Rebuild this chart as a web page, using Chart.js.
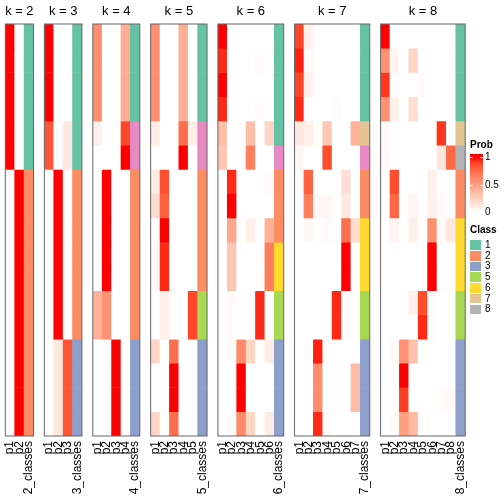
<!DOCTYPE html>
<html>
<head>
<meta charset="utf-8">
<script src="https://cdn.jsdelivr.net/npm/chart.js@4.4.0/dist/chart.umd.min.js"></script>
<style>
  body { margin: 0; width: 504px; height: 504px; background: #fff; position: relative; overflow: hidden;
         font-family: "Liberation Sans", Arial, sans-serif; }
  .panel { position: absolute; top: 0; height: 504px; }
  .lg { position: absolute; font-size: 10px; line-height: 12px; color: #000; white-space: nowrap; }
  .lg.b { font-weight: bold; }
  .sw { position: absolute; }
</style>
</head>
<body>
<div id="panels"></div>
<div id="legend"></div>
<script>
const kValues = [2, 3, 4, 5, 6, 7, 8];

// membership probabilities, one row per sample (top to bottom)
const probK2 = [
  [1, 0], [1, 0], [1, 0], [1, 0], [1, 0], [1, 0],
  [0, 1], [0, 1], [0, 1], [0, 1], [0, 1], [0, 1], [0, 1], [0, 1], [0, 1], [0, 1], [0, 1]
];
const classK2 = [1, 1, 1, 1, 1, 1, 2, 2, 2, 2, 2, 2, 2, 2, 2, 2, 2];

const probK3 = [
  [1, 0, 0], [1, 0, 0], [1, 0, 0], [1, 0, 0],
  [0.82, 0, 0.12], [0.82, 0, 0.12],
  [0, 1, 0], [0, 1, 0], [0, 1, 0], [0, 1, 0], [0, 1, 0], [0, 1, 0], [0, 1, 0],
  [0, 0.12, 0.82], [0, 0.12, 0.82], [0, 0.12, 0.82], [0, 0.12, 0.82]
];
const classK3 = [1, 1, 1, 1, 1, 1, 2, 2, 2, 2, 2, 2, 2, 3, 3, 3, 3];

const probK4 = [
  [0.58, 0, 0, 0.42], [0.58, 0, 0, 0.42], [0.58, 0, 0, 0.42], [0.58, 0, 0, 0.42],
  [0.08, 0, 0, 0.87], [0, 0, 0, 1],
  [0, 1, 0, 0], [0, 1, 0, 0], [0, 1, 0, 0], [0, 1, 0, 0], [0, 1, 0, 0],
  [0.4, 0.57, 0, 0], [0.4, 0.57, 0, 0],
  [0, 0, 1, 0], [0, 0, 1, 0], [0, 0, 1, 0], [0, 0, 1, 0]
];
const classK4 = [1, 1, 1, 1, 4, 4, 2, 2, 2, 2, 2, 2, 2, 3, 3, 3, 3];

const probK5 = [
  [0.58, 0, 0, 0.42, 0], [0.58, 0, 0, 0.42, 0], [0.58, 0, 0, 0.42, 0], [0.58, 0, 0, 0.42, 0],
  [0.1, 0, 0, 0.72, 0.09], [0, 0, 0, 1, 0],
  [0.1, 0.85, 0, 0, 0], [0.18, 0.78, 0, 0, 0], [0, 1, 0, 0, 0],
  [0.02, 0.95, 0, 0, 0], [0.02, 0.95, 0, 0, 0],
  [0, 0.08, 0, 0, 0.87], [0, 0.08, 0, 0, 0.87],
  [0.22, 0, 0.72, 0, 0], [0, 0, 1, 0, 0], [0, 0, 1, 0, 0], [0.22, 0, 0.72, 0, 0]
];
const classK5 = [1, 1, 1, 1, 4, 4, 2, 2, 2, 2, 2, 5, 5, 3, 3, 3, 3];

const probK6 = [
  [1, 0, 0, 0, 0, 0], [0.95, 0, 0, 0, 0.02, 0], [1, 0, 0, 0, 0, 0], [0.95, 0, 0, 0, 0.02, 0],
  [0.34, 0, 0, 0.34, 0, 0.22], [0.3, 0, 0, 0.65, 0, 0],
  [0, 0.95, 0, 0, 0, 0.02], [0, 1, 0, 0, 0, 0], [0, 0.45, 0, 0.08, 0, 0.4],
  [0, 0.3, 0, 0, 0, 0.65], [0, 0.3, 0, 0, 0, 0.65],
  [0, 0.02, 0, 0, 0.95, 0], [0, 0.02, 0, 0, 0.95, 0],
  [0, 0.02, 0.6, 0.22, 0, 0.1], [0, 0, 1, 0, 0, 0], [0, 0, 1, 0, 0, 0], [0, 0.02, 0.6, 0.22, 0, 0.1]
];
const classK6 = [1, 1, 1, 1, 1, 4, 2, 2, 2, 6, 6, 5, 5, 3, 3, 3, 3];

const probK7 = [
  [0.88, 0.08, 0, 0, 0, 0, 0], [0.97, 0.02, 0, 0, 0, 0, 0], [0.88, 0.08, 0, 0, 0, 0, 0], [0.95, 0, 0, 0, 0.02, 0, 0],
  [0.12, 0.08, 0, 0.3, 0, 0, 0.4], [0.05, 0, 0, 0.85, 0, 0, 0],
  [0, 0.78, 0, 0, 0, 0.17, 0], [0, 0.65, 0.04, 0.04, 0, 0.12, 0], [0, 0.04, 0, 0.02, 0, 0.72, 0.18],
  [0, 0, 0, 0, 0, 1, 0], [0, 0, 0, 0, 0, 1, 0],
  [0, 0, 0, 0, 0.95, 0.02, 0], [0, 0, 0, 0, 0.95, 0.02, 0],
  [0, 0, 0.97, 0, 0, 0, 0], [0, 0, 0.58, 0, 0, 0, 0.35], [0, 0, 0.58, 0, 0, 0, 0.35], [0, 0, 0.95, 0.02, 0, 0, 0]
];
const classK7 = [1, 1, 1, 1, 7, 4, 2, 2, 6, 6, 6, 5, 5, 3, 3, 3, 3];

const probK8 = [
  [1, 0, 0, 0, 0, 0, 0, 0], [0.57, 0.05, 0, 0.22, 0, 0, 0, 0], [0.92, 0.02, 0, 0, 0.02, 0, 0, 0], [0.57, 0.08, 0, 0.18, 0, 0, 0, 0],
  [0.03, 0, 0, 0, 0, 0, 0.92, 0], [0.03, 0, 0, 0, 0, 0, 0.14, 0.75],
  [0, 0.85, 0, 0, 0, 0.08, 0, 0], [0, 0.75, 0, 0.05, 0, 0.08, 0.02, 0], [0, 0.06, 0, 0.08, 0, 0.57, 0.03, 0.12],
  [0, 0, 0, 0, 0, 1, 0, 0], [0, 0, 0, 0, 0, 1, 0, 0],
  [0, 0, 0, 0.07, 0.85, 0.02, 0, 0], [0, 0, 0, 0, 0.95, 0.02, 0, 0],
  [0, 0.02, 0.57, 0.32, 0, 0, 0, 0], [0, 0, 1, 0, 0, 0, 0, 0], [0, 0, 0.9, 0, 0, 0, 0.02, 0.03], [0, 0.02, 0.5, 0.37, 0, 0, 0, 0]
];
const classK8 = [1, 1, 1, 1, 7, 8, 2, 2, 6, 6, 6, 5, 5, 3, 3, 3, 3];

const probSets = [probK2, probK3, probK4, probK5, probK6, probK7, probK8];
const classSets = [classK2, classK3, classK4, classK5, classK6, classK7, classK8];

const classColors = { 1: '#66C2A5', 2: '#FC8D62', 3: '#8DA0CB', 4: '#E78AC3', 5: '#A6D854', 6: '#FFD92F', 7: '#E5C494', 8: '#B3B3B3' };
const legendClasses = [1, 2, 3, 5, 6, 7, 8];
const probTicks = [1, 0.5, 0];

const FONT = '"Liberation Sans", Arial, sans-serif';

// white -> red ramp, interpolated in Lab
const labWhite = [100, 0, 0];
const labRed = [53.24, 80.09, 67.2];
function labToHex(L, a, b) {
  const fy = (L + 16) / 116, fx = fy + a / 500, fz = fy - b / 200;
  const f = t => (t > 0.206893 ? t * t * t : (t - 16 / 116) / 7.787);
  const X = 0.95047 * f(fx), Y = f(fy), Z = 1.08883 * f(fz);
  const lin = [
    3.2406 * X - 1.5372 * Y - 0.4986 * Z,
    -0.9689 * X + 1.8758 * Y + 0.0415 * Z,
    0.0557 * X - 0.204 * Y + 1.057 * Z
  ];
  return '#' + lin.map(c => {
    c = Math.min(1, Math.max(0, c));
    const s = c <= 0.0031308 ? 12.92 * c : 1.055 * Math.pow(c, 1 / 2.4) - 0.055;
    return Math.round(s * 255).toString(16).padStart(2, '0');
  }).join('');
}
function probColor(p) {
  return labToHex(
    labWhite[0] + (labRed[0] - labWhite[0]) * p,
    labWhite[1] + (labRed[1] - labWhite[1]) * p,
    labWhite[2] + (labRed[2] - labWhite[2]) * p
  );
}

const framePlugin = {
  id: 'frame',
  afterDatasetsDraw(chart) {
    const a = chart.chartArea, ctx = chart.ctx;
    ctx.save();
    ctx.strokeStyle = '#666';
    ctx.lineWidth = 1;
    ctx.strokeRect(a.left, a.top, a.right - a.left, a.bottom - a.top);
    ctx.restore();
  }
};

const colW = 9.4, gapW = 10.85, startX = 5.3, margin = 8;
let colsBefore = 0;
kValues.forEach((k, idx) => {
  const probs = probSets[idx], classes = classSets[idx];
  const labels = [];
  for (let i = 1; i <= k; i++) labels.push('p' + i);
  labels.push(k + '_classes');

  const panelLeft = startX + colsBefore * colW + idx * gapW;
  const panelWidth = (k + 1) * colW;
  colsBefore += k + 1;
  const canvasLeft = Math.floor(panelLeft) - margin;
  const padLeft = panelLeft - canvasLeft;
  const canvasWidth = Math.ceil(padLeft + panelWidth + margin);
  const padRight = canvasWidth - padLeft - panelWidth;

  const div = document.createElement('div');
  div.className = 'panel';
  div.style.left = canvasLeft + 'px';
  div.style.width = canvasWidth + 'px';
  const canvas = document.createElement('canvas');
  canvas.width = canvasWidth;
  canvas.height = 504;
  div.appendChild(canvas);
  document.getElementById('panels').appendChild(div);

  const datasets = probs.map((row, r) => ({
    label: 'sample ' + (r + 1),
    data: labels.map(() => 1),
    backgroundColor: row.map(p => probColor(p)).concat([classColors[classes[r]]]),
    borderWidth: 0,
    barPercentage: 1,
    categoryPercentage: 1
  }));

  new Chart(canvas, {
    type: 'bar',
    data: { labels: labels, datasets: datasets },
    options: {
      responsive: false,
      animation: false,
      layout: { padding: { left: padLeft, right: padRight, top: 0, bottom: 0 } },
      plugins: {
        legend: { display: false },
        tooltip: { enabled: false },
        title: {
          display: true,
          text: 'k = ' + k,
          color: '#000',
          font: { size: 13, weight: 'normal', family: FONT },
          padding: { top: 4, bottom: 4.4 }
        }
      },
      scales: {
        x: {
          stacked: true,
          grid: { display: false, drawTicks: false },
          border: { display: false },
          ticks: { autoSkip: false, maxRotation: 90, minRotation: 90, padding: 5, color: '#000',
                   font: { size: 12, family: FONT } },
          afterFit: s => {
            s.height = 68;
            s.paddingLeft = 0;
            s.paddingRight = 0;
          }
        },
        y: { stacked: true, display: false, min: 0, max: probs.length, reverse: true }
      }
    },
    plugins: [framePlugin]
  });
});

// legend
const legend = document.getElementById('legend');
function addText(txt, left, centerY, bold) {
  const d = document.createElement('div');
  d.className = 'lg' + (bold ? ' b' : '');
  d.textContent = txt;
  d.style.left = left + 'px';
  d.style.top = (centerY - 6) + 'px';
  legend.appendChild(d);
}
addText('Prob', 470, 145, true);
const barTop = 154, barBottom = 215, yAt1 = 156.7, yAt0 = 212.3;
const stops = [];
for (let i = 0; i <= 10; i++) {
  const v = i / 10;
  const y = yAt0 - v * (yAt0 - yAt1);
  stops.push(probColor(v) + ' ' + ((barBottom - y) / (barBottom - barTop) * 100).toFixed(1) + '%');
}
const bar = document.createElement('div');
bar.className = 'sw';
bar.style.cssText += `left:470px;top:${barTop}px;width:13px;height:${barBottom - barTop}px;` +
  `background:linear-gradient(to top, #fff 0%, ${stops.join(', ')}, ${probColor(1)} 100%);`;
legend.appendChild(bar);
probTicks.forEach(v => {
  const y = yAt0 - v * (yAt0 - yAt1);
  if (v > 0) {
    [470, 480].forEach(x => {
      const t = document.createElement('div');
      t.className = 'sw';
      t.style.cssText += `left:${x}px;top:${Math.round(y)}px;width:3px;height:1px;background:#fff;`;
      legend.appendChild(t);
    });
  }
  addText(String(v), 485, y, false);
});
addText('Class', 470, 229.5, true);
legendClasses.forEach((c, i) => {
  const top = 240.3 + i * 10.7;
  const s = document.createElement('div');
  s.className = 'sw';
  s.style.cssText += `left:470px;top:${top}px;width:11px;height:9.5px;background:${classColors[c]};`;
  legend.appendChild(s);
  addText(String(c), 485, top + 4.7, false);
});
</script>
</body>
</html>
